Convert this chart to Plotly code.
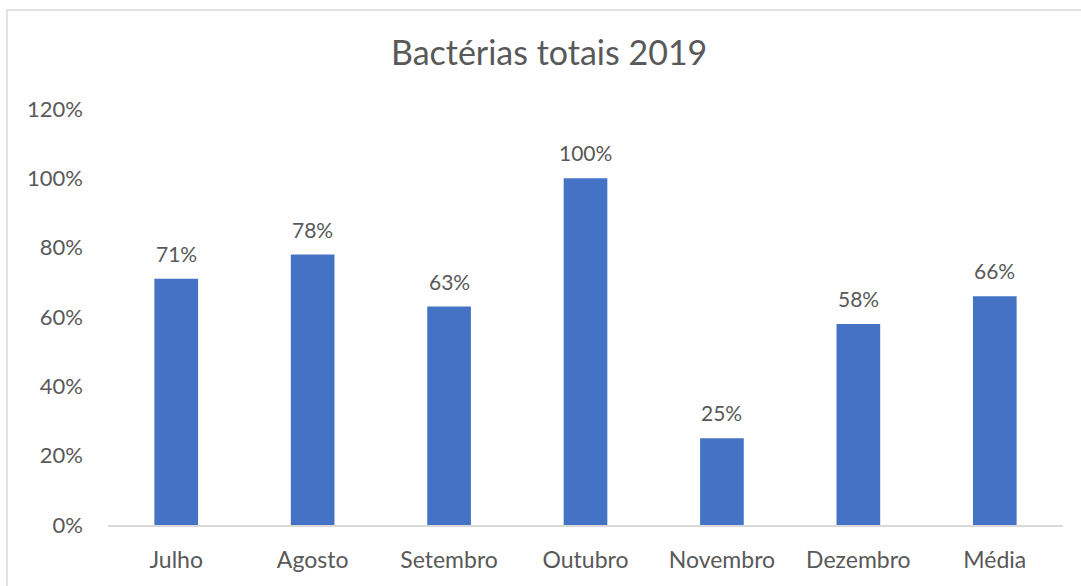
import plotly.graph_objects as go

# Monthly totals, share of maximum
meses = ["Julho", "Agosto", "Setembro", "Outubro", "Novembro", "Dezembro", "Média"]
valores = [0.71, 0.78, 0.63, 1.00, 0.25, 0.58, 0.66]
y_ticks = [0, 0.2, 0.4, 0.6, 0.8, 1.0, 1.2]
y_tick_labels = ["0%", "20%", "40%", "60%", "80%", "100%", "120%"]

FONT = "Lato, Calibri, sans-serif"
GRAY = "#595959"

fig = go.Figure(
    go.Bar(
        x=meses,
        y=valores,
        marker=dict(color="#4472C4", line=dict(width=0)),
        width=0.32,
        hoverinfo="skip",
    )
)

# value labels above each bar
for m, v in zip(meses, valores):
    fig.add_annotation(
        x=m, y=v, text=f"{v * 100:.0f}%", showarrow=False,
        yanchor="bottom", yshift=11,
        font=dict(family=FONT, size=21, color=GRAY),
    )

L, R, T, B = 108, 18, 109, 61
W, H = 1081, 586
pw, ph = W - L - R, H - T - B

# outer chart border
fig.add_shape(
    type="rect", xref="paper", yref="paper",
    x0=(7 - L) / pw, x1=(W + 5 - L) / pw,
    y0=-(H + 5 - (H - B)) / ph, y1=((H - B) - 10) / ph,
    line=dict(color="#D9D9D9", width=1.5), fillcolor="rgba(0,0,0,0)",
    layer="below",
)

fig.update_layout(
    width=W, height=H,
    margin=dict(l=L, r=R, t=T, b=B),
    paper_bgcolor="white", plot_bgcolor="white",
    title=dict(
        text="Bactérias totais 2019", x=0.508, xanchor="center",
        y=(H - 53) / H, yanchor="middle",
        font=dict(family=FONT, size=34, color=GRAY),
    ),
    showlegend=False,
    bargap=0.68,
    xaxis=dict(
        showgrid=False, showline=True, linecolor="#D9D9D9", linewidth=1.5,
        ticks="", tickfont=dict(family=FONT, size=23, color=GRAY),
        ticklabelstandoff=14,
    ),
    yaxis=dict(
        range=[0, 1.2], tickvals=y_ticks, ticktext=y_tick_labels,
        showgrid=False, zeroline=False, showline=False, ticks="",
        tickfont=dict(family=FONT, size=22, color=GRAY),
        ticklabelstandoff=24,
    ),
)

fig.write_html("out.html")
